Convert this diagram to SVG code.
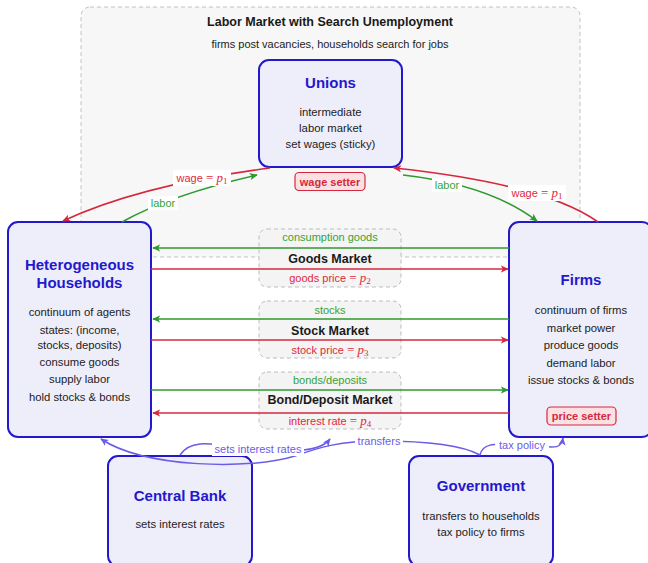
<svg xmlns="http://www.w3.org/2000/svg" width="648" height="563" viewBox="0 0 648 563">
<style>
text{font-family:"Liberation Sans",Arial,sans-serif;text-anchor:middle}
.node{fill:#eeeefb;stroke:#2418cc;stroke-width:2}
.ttl{font-size:15px;font-weight:bold;fill:#2418cc}
.body{font-size:11.3px;fill:#222}
.mkt{fill:#f4f4f4;stroke:#bdbdbd;stroke-width:1;stroke-dasharray:4 3}
.mt{font-size:12.5px;font-weight:bold;fill:#1a1a1a}
.g{stroke:#2e9a2e;stroke-width:1.6;fill:none}
.r{stroke:#d6283c;stroke-width:1.6;fill:none}
.p{stroke:#6a5ce6;stroke-width:1.5;fill:none}
.gt{font-size:11px;fill:#36a336}
.rt{font-size:11px;fill:#e0283c}
.pt{font-size:11px;fill:#6a5ce6}
.bg{fill:#fff}
.badge{fill:#fbe1e4;stroke:#d6283c;stroke-width:1.2}
.bt{font-size:11px;font-weight:bold;fill:#d6283c}
.m{font-family:"Liberation Serif","Times New Roman",serif;font-size:13px}
.mi{font-family:"Liberation Serif","Times New Roman",serif;font-style:italic;font-size:13px}
.sub{font-family:"Liberation Serif","Times New Roman",serif;font-size:9px}
</style>
<defs>
<marker id="ag" viewBox="0 0 10 10" refX="9" refY="5" markerWidth="8" markerHeight="8" markerUnits="userSpaceOnUse" orient="auto"><path d="M0,0.5 L10,5 L0,9.5 L2.5,5 z" fill="#2e9a2e"/></marker>
<marker id="ar" viewBox="0 0 10 10" refX="9" refY="5" markerWidth="8" markerHeight="8" markerUnits="userSpaceOnUse" orient="auto"><path d="M0,0.5 L10,5 L0,9.5 L2.5,5 z" fill="#d6283c"/></marker>
<marker id="ap" viewBox="0 0 10 10" refX="9" refY="5" markerWidth="8" markerHeight="8" markerUnits="userSpaceOnUse" orient="auto"><path d="M0,0.5 L10,5 L0,9.5 L2.5,5 z" fill="#6a5ce6"/></marker>
</defs>
<rect width="648" height="563" fill="#fff"/>

<g id="labor-market">
<rect x="81" y="7" width="499" height="250" rx="9" fill="#f7f7f7" stroke="#c2c2c2" stroke-dasharray="4 3"/>
<text x="330" y="26" style="font-size:12.5px;font-weight:bold;fill:#1a1a1a">Labor Market with Search Unemployment</text>
<text x="330" y="48" style="font-size:11px;fill:#222">firms post vacancies, households search for jobs</text>
</g>

<g id="goods-market">
<rect class="mkt" x="259" y="229" width="142" height="58" rx="8"/>
<text class="mt" x="330" y="263">Goods Market</text>
</g>
<g id="stock-market">
<rect class="mkt" x="259" y="301" width="142" height="57" rx="8"/>
<text class="mt" x="330" y="335">Stock Market</text>
</g>
<g id="bond-market">
<rect class="mkt" x="259" y="372" width="142" height="57" rx="8"/>
<text class="mt" x="330" y="404">Bond/Deposit Market</text>
</g>

<g id="unions">
<rect class="node" x="259" y="60" width="143" height="107" rx="10"/>
<text class="ttl" x="330.5" y="88">Unions</text>
<text class="body" x="330.5" y="116">intermediate</text>
<text class="body" x="330.5" y="132">labor market</text>
<text class="body" x="330.5" y="148">set wages (sticky)</text>
<rect class="badge" x="295" y="172.5" width="70" height="18" rx="4"/>
<text class="bt" x="330" y="185.5">wage setter</text>
</g>

<g id="households">
<rect class="node" x="8" y="222" width="143" height="215" rx="10"/>
<text class="ttl" x="79.5" y="270">Heterogeneous</text>
<text class="ttl" x="79.5" y="288">Households</text>
<text class="body" x="79.5" y="316">continuum of agents</text>
<text class="body" x="79.5" y="334">states: (income,</text>
<text class="body" x="79.5" y="349">stocks, deposits)</text>
<text class="body" x="79.5" y="366">consume goods</text>
<text class="body" x="79.5" y="383">supply labor</text>
<text class="body" x="79.5" y="401">hold stocks &amp; bonds</text>
</g>

<g id="firms">
<rect class="node" x="509" y="222" width="143" height="215" rx="10"/>
<text class="ttl" x="581" y="285">Firms</text>
<text class="body" x="581" y="314">continuum of firms</text>
<text class="body" x="581" y="332">market power</text>
<text class="body" x="581" y="349">produce goods</text>
<text class="body" x="581" y="367">demand labor</text>
<text class="body" x="581" y="384">issue stocks &amp; bonds</text>
<rect class="badge" x="547" y="407" width="69" height="18" rx="4"/>
<text class="bt" x="581.5" y="420">price setter</text>
</g>

<g id="central-bank">
<rect class="node" x="108" y="456" width="144" height="110" rx="10"/>
<text class="ttl" x="180" y="501">Central Bank</text>
<text class="body" x="180" y="528">sets interest rates</text>
</g>

<g id="government">
<rect class="node" x="409" y="456" width="144" height="110" rx="10"/>
<text class="ttl" x="481" y="491">Government</text>
<text class="body" x="481" y="520">transfers to households</text>
<text class="body" x="481" y="536">tax policy to firms</text>
</g>

<g id="connectors">
<path class="r" d="M270,168 Q140,185 63,221" marker-end="url(#ar)"/>
<path class="g" d="M122,222 Q170,195 257,175" marker-end="url(#ag)"/>
<path class="r" d="M598,222 Q545,184 394,168" marker-end="url(#ar)"/>
<path class="g" d="M403,175 Q490,185 537,221" marker-end="url(#ag)"/>
<rect class="bg" x="173" y="170" width="58" height="16"/>
<text class="rt" x="202" y="182">wage <tspan class="m">= </tspan><tspan class="mi">p</tspan><tspan class="sub" dy="2">1</tspan></text>
<rect class="bg" x="148" y="196" width="30" height="14"/>
<text class="gt" x="163" y="207">labor</text>
<rect class="bg" x="508" y="185" width="58" height="16"/>
<text class="rt" x="537" y="197">wage <tspan class="m">= </tspan><tspan class="mi">p</tspan><tspan class="sub" dy="2">1</tspan></text>
<rect class="bg" x="432" y="178" width="30" height="14"/>
<text class="gt" x="447" y="189">labor</text>

<path class="g" d="M509,248 L153,248" marker-end="url(#ag)"/>
<path class="r" d="M151,269 L508,269" marker-end="url(#ar)"/>
<text class="gt" x="330" y="241">consumption goods</text>
<text class="rt" x="330" y="282">goods price <tspan class="m">= </tspan><tspan class="mi">p</tspan><tspan class="sub" dy="2">2</tspan></text>

<path class="g" d="M509,319 L153,319" marker-end="url(#ag)"/>
<path class="r" d="M151,340 L508,340" marker-end="url(#ar)"/>
<text class="gt" x="330" y="314">stocks</text>
<text class="rt" x="330" y="354">stock price <tspan class="m">= </tspan><tspan class="mi">p</tspan><tspan class="sub" dy="2">3</tspan></text>

<path class="g" d="M151,390 L508,390" marker-end="url(#ag)"/>
<path class="r" d="M509,413 L153,413" marker-end="url(#ar)"/>
<text class="gt" x="330" y="384">bonds/deposits</text>
<text class="rt" x="330" y="425">interest rate <tspan class="m">= </tspan><tspan class="mi">p</tspan><tspan class="sub" dy="2">4</tspan></text>

<path class="p" d="M480,455 C460,444 420,441 380,441 C340,441 320,447 295,456 C250,470 145,468 101,439" marker-end="url(#ap)"/>
<path class="p" d="M180,455 C192,437 215,445 260,449 C292,452 320,452 330,439" marker-end="url(#ap)"/>
<path class="p" d="M480,455 C483,442 495,444 522,445 C550,446 561,452 563,438" marker-end="url(#ap)"/>
<rect class="bg" x="212" y="442" width="92" height="14"/>
<text class="pt" x="258" y="453">sets interest rates</text>
<rect class="bg" x="355" y="434" width="48" height="14"/>
<text class="pt" x="379" y="445">transfers</text>
<rect class="bg" x="495" y="438" width="54" height="14"/>
<text class="pt" x="522" y="449">tax policy</text>
</g>
</svg>
